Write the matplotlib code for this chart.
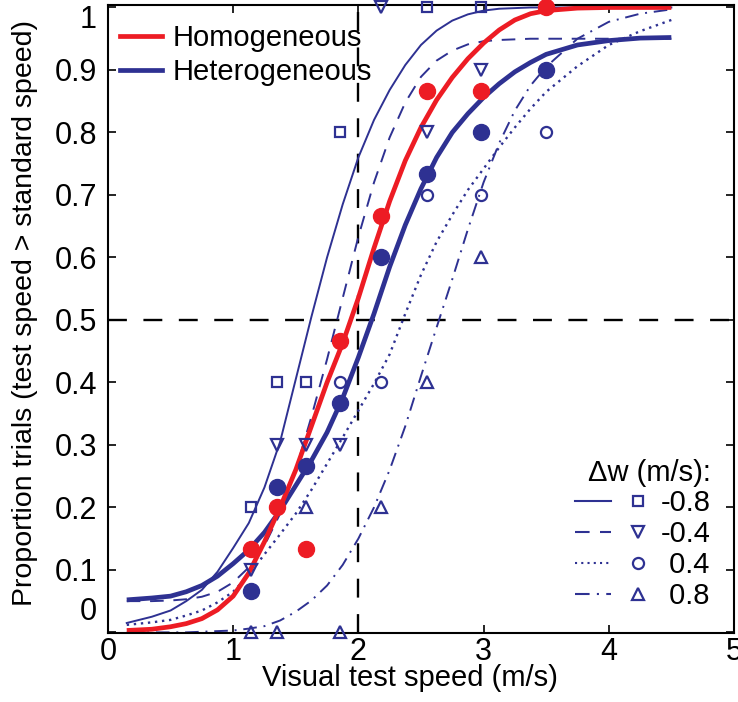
import matplotlib
matplotlib.use('Agg')
import matplotlib.pyplot as plt
from matplotlib.lines import Line2D
from matplotlib.legend_handler import HandlerTuple

plt.rcParams['font.family'] = ['Liberation Sans', 'DejaVu Sans']

RED = '#ED1C24'
BLUE = '#2E3192'

# measured proportions (test speed > standard speed)
speeds = [1.14, 1.35, 1.58, 1.85, 2.18, 2.55, 2.98, 3.5]
homog_pts = [0.133, 0.2, 0.133, 0.467, 0.667, 0.867, 0.867, 1.0]
heterog_pts = [0.067, 0.233, 0.267, 0.367, 0.6, 0.733, 0.8, 0.9]

# per delta-w points (the visible ones)
m08_x = [1.14, 1.35, 1.58, 1.85, 2.55, 2.98]
m08_y = [0.2, 0.4, 0.4, 0.8, 1.0, 1.0]
m04_x = [1.14, 1.35, 1.58, 1.85, 2.18, 2.55, 2.98]
m04_y = [0.1, 0.3, 0.3, 0.3, 1.0, 0.8, 0.9]
p04_x = [1.85, 2.18, 2.55, 2.98, 3.5]
p04_y = [0.4, 0.4, 0.7, 0.7, 0.8]
p08_x = [1.14, 1.35, 1.58, 1.85, 2.18, 2.55, 2.98]
p08_y = [0.0, 0.0, 0.2, 0.0, 0.2, 0.4, 0.6]

# fitted psychometric curves
fit_x = [0.15, 0.35, 0.5, 0.625, 0.75, 0.875, 1.0, 1.125, 1.25, 1.375, 1.5,
         1.625, 1.75, 1.875, 2.0, 2.125, 2.25, 2.375, 2.5, 2.625, 2.75,
         2.875, 3.0, 3.125, 3.25, 3.375, 3.5, 3.75, 4.0, 4.25, 4.5]
fit_homog = [0.003, 0.005, 0.009, 0.014, 0.022, 0.036, 0.058, 0.095, 0.145,
             0.20, 0.26, 0.33, 0.40, 0.463, 0.535, 0.615, 0.69, 0.755, 0.808,
             0.852, 0.888, 0.918, 0.943, 0.964, 0.98, 0.99, 0.995, 0.999,
             1.0, 1.0, 1.0]
fit_heterog = [0.052, 0.055, 0.058, 0.065, 0.075, 0.09, 0.11, 0.132, 0.16,
               0.195, 0.235, 0.275, 0.32, 0.375, 0.44, 0.51, 0.585, 0.652,
               0.71, 0.76, 0.80, 0.83, 0.856, 0.878, 0.897, 0.912, 0.925,
               0.94, 0.947, 0.951, 0.952]
fit_m08 = [0.015, 0.025, 0.035, 0.05, 0.068, 0.097, 0.135, 0.175, 0.232,
           0.305, 0.405, 0.505, 0.60, 0.685, 0.76, 0.82, 0.868, 0.908, 0.94,
           0.963, 0.979, 0.989, 0.995, 0.998, 0.999, 1.0, 1.0, 1.0, 1.0,
           1.0, 1.0]
fit_m04 = [0.05, 0.05, 0.051, 0.053, 0.057, 0.065, 0.08, 0.104, 0.139, 0.19,
           0.26, 0.345, 0.437, 0.535, 0.633, 0.72, 0.792, 0.848, 0.889,
           0.915, 0.931, 0.941, 0.946, 0.948, 0.949, 0.95, 0.95, 0.95, 0.95,
           0.95, 0.95]
fit_p04 = [0.012, 0.016, 0.02, 0.027, 0.035, 0.048, 0.065, 0.092, 0.125,
           0.157, 0.19, 0.228, 0.27, 0.312, 0.355, 0.398, 0.445, 0.51, 0.572,
           0.625, 0.668, 0.708, 0.742, 0.776, 0.808, 0.838, 0.865, 0.906,
           0.94, 0.962, 0.98]
fit_p08 = [0.0, 0.0, 0.0, 0.0, 0.001, 0.002, 0.003, 0.006, 0.01, 0.019,
           0.033, 0.051, 0.075, 0.108, 0.15, 0.2, 0.26, 0.33, 0.41, 0.488,
           0.565, 0.645, 0.72, 0.783, 0.835, 0.875, 0.905, 0.95, 0.977,
           0.99, 0.997]

dw_labels = ['-0.8', '-0.4', ' 0.4', ' 0.8']

ls_dash = (0, (7, 5))
ls_dot = (0, (1, 2))
ls_dashdot = (0, (7, 3.5, 1, 3.5))

fig = plt.figure(figsize=(7.38, 7.02), dpi=100)
ax = fig.add_axes([0.1463, 0.0983, 0.8482, 0.8946])

ax.axvline(2, color='k', ls=(0, (8, 7)), lw=1.7, zorder=1)
ax.axhline(0.5, color='k', ls=(0, (8, 7)), lw=1.7, zorder=1)

# curves
ax.plot(fit_x, fit_m08, color=BLUE, lw=1.4, ls='-')
ax.plot(fit_x, fit_m04, color=BLUE, lw=1.4, ls=ls_dash)
ax.plot(fit_x, fit_p04, color=BLUE, lw=1.7, ls=ls_dot)
ax.plot(fit_x, fit_p08, color=BLUE, lw=1.4, ls=ls_dashdot)
ax.plot(fit_x, fit_heterog, color=BLUE, lw=3.4, solid_capstyle='butt')
ax.plot(fit_x, fit_homog, color=RED, lw=3.4, solid_capstyle='butt')

# points
mk = dict(ls='none', mfc='none', mec=BLUE, mew=1.6, clip_on=False, zorder=4)
ax.plot(m08_x, m08_y, marker='s', ms=7, **mk)
ax.plot(m04_x, m04_y, marker='v', ms=9, **mk)
ax.plot(p04_x, p04_y, marker='o', ms=8, **mk)
ax.plot(p08_x, p08_y, marker='^', ms=9, **mk)
ax.plot(speeds, heterog_pts, 'o', color=BLUE, ms=11.5, clip_on=False, zorder=5)
ax.plot(speeds, homog_pts, 'o', color=RED, ms=11.5, clip_on=False, zorder=5)

ax.set_xlim(0, 5)
ax.set_ylim(-0.001, 1.004)
ax.set_xticks([0, 1, 2, 3, 4, 5])
yt = [0, 0.1, 0.2, 0.3, 0.4, 0.5, 0.6, 0.7, 0.8, 0.9, 1.0]
ax.set_yticks(yt)
ax.set_yticklabels([''] + ['%.1f' % v for v in yt[1:-1]] + [''])
ax.tick_params(direction='in', length=6, width=1.2, top=True, right=True,
               labelsize=22)
ax.tick_params(axis='y', pad=8)
ax.tick_params(axis='x', pad=3)
for s in ax.spines.values():
    s.set_linewidth(1.5)

ytr = ax.get_yaxis_transform()
ax.text(-0.0176, 0.033, '0', transform=ytr, ha='right', va='center', fontsize=22)
ax.text(-0.0176, 0.98, '1', transform=ytr, ha='right', va='center', fontsize=22)

ax.set_xlabel('Visual test speed (m/s)', fontsize=21)
ax.set_ylabel('Proportion trials (test speed > standard speed)', fontsize=20.5)
ax.xaxis.set_label_coords(0.482, -0.05)
ax.yaxis.set_label_coords(-0.112, 0.51)

# legends
h1 = [Line2D([], [], color=RED, lw=3.4), Line2D([], [], color=BLUE, lw=3.4)]
leg1 = ax.legend(h1, ['Homogeneous', 'Heterogeneous'], loc='upper left',
                 bbox_to_anchor=(0.0187, 0.969), frameon=False, fontsize=21,
                 handlelength=1.45, handletextpad=0.35, labelspacing=0.2,
                 borderaxespad=0, borderpad=0)
ax.add_artist(leg1)

styles = [('-', 's', 7), (ls_dash, 'v', 9), (ls_dot, 'o', 8), (ls_dashdot, '^', 9)]
h2 = []
for ls, m, ms in styles:
    ln = Line2D([], [], color=BLUE, lw=1.5, ls=ls)
    mkh = Line2D([], [], color=BLUE, ls='none', marker=m, ms=ms, mfc='none',
                 mew=1.6)
    h2.append((ln, mkh))
leg2 = ax.legend(h2, dw_labels, loc='lower right', frameon=False, fontsize=21,
                 handler_map={tuple: HandlerTuple(ndivide=2, pad=0.3)},
                 handlelength=2.74, handletextpad=0.2, labelspacing=0.1,
                 borderaxespad=0.78, borderpad=0, title='Δw (m/s):',
                 title_fontsize=21, alignment='right')

fig.savefig('out.png', dpi=100)
